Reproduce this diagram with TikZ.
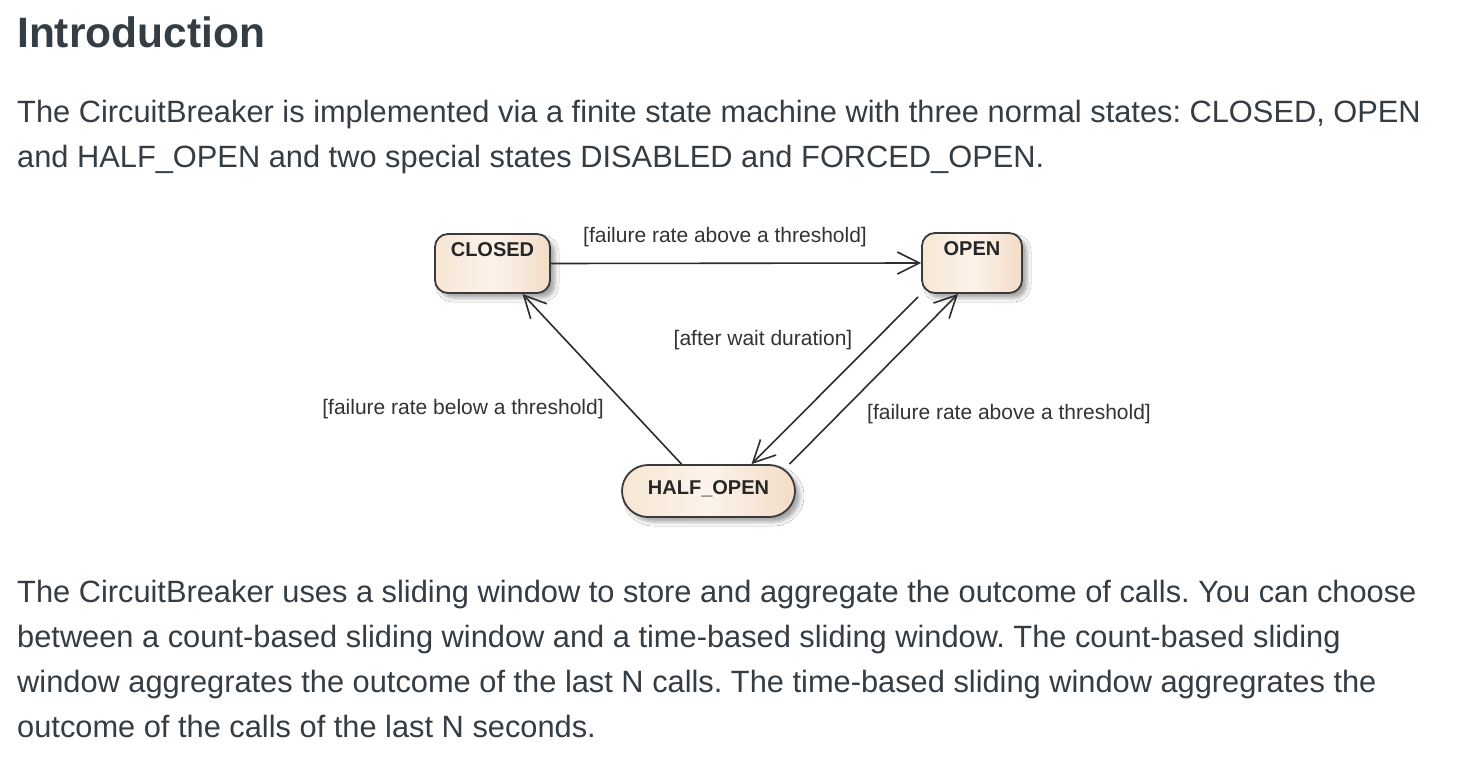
\documentclass[tikz,border=0pt]{standalone}
\usepackage{fontspec}
\setmainfont{Liberation Sans}
\usetikzlibrary{arrows.meta,positioning,shadows.blur}
\frenchspacing

\definecolor{bodytext}{RGB}{52,60,68}
\definecolor{boxline}{RGB}{58,58,58}
\definecolor{boxleft}{RGB}{247,230,211}
\definecolor{boxmid}{RGB}{252,243,235}
\definecolor{boxright}{RGB}{243,220,199}
\definecolor{wire}{RGB}{45,45,45}

\tikzset{
  para/.style={anchor=base west, inner sep=0pt, text=bodytext, font=\fontsize{30.8}{45}\selectfont},
  heading/.style={anchor=base west, inner sep=0pt, text=bodytext, font=\fontsize{42.5}{50}\selectfont\bfseries},
  statebox/.style={draw=boxline, line width=1.8pt, rounded corners=13pt,
    left color=boxleft, right color=boxright, middle color=boxmid,
    blur shadow={shadow xshift=5pt, shadow yshift=-5pt, shadow blur radius=4pt, shadow opacity=35},
    font=\fontsize{20}{24}\selectfont\bfseries, text=black!85, inner sep=0pt, text height=14pt},
  guard/.style={font=\fontsize{21}{24}\selectfont, text=black!80, inner sep=0pt},
  trans/.style={draw=wire, line width=1.6pt, -{Straight Barb[length=22pt,width=22pt]}},
}

\begin{document}
\begin{tikzpicture}[x=1pt, y=-1pt]
	\useasboundingbox (0,0) rectangle (1458,762);
	\fill[white] (0,0) rectangle (1458,762);
	% text above the diagram
	\node[heading] (title) at (17,48) {Introduction};
	\node[para] (intro1) at (17,123) {The CircuitBreaker is implemented via a finite state machine with three normal states: CLOSED, OPEN};
	\node[para] (intro2) at (17,168) {and HALF\_OPEN and two special states DISABLED and FORCED\_OPEN.};
	% states
	\node[statebox, minimum width=115pt, minimum height=59pt, text depth=29pt] (closed) at (492.5,263.5) {CLOSED};
	\node[statebox, minimum width=100pt, minimum height=60pt, text depth=29pt] (open) at (972,263) {OPEN};
	\node[statebox, rounded corners=26pt, minimum width=173pt, minimum height=52pt, text depth=8pt] (half) at (708.5,491) {HALF\_OPEN};
	% transitions
	\draw[trans] (closed.east) -- (open.west);
	\draw[trans] ([xshift=-27pt]half.north) -- ([xshift=30pt]closed.south);
	\draw[trans] ([xshift=-3pt,yshift=-3pt]open.south west) -- ([xshift=43pt]half.north);
	\draw[trans] ([xshift=81pt]half.north) -- ([xshift=-14pt]open.south);
	\node[guard] (g1) at (725,237) {[failure rate above a threshold]};
	\node[guard] (g2) at (763,340) {[after wait duration]};
	\node[guard] (g3) at (463,409) {[failure rate below a threshold]};
	\node[guard] (g4) at (1009,414) {[failure rate above a threshold]};
	% text below the diagram
	\node[para] (win1) at (17,602) {The CircuitBreaker uses a sliding window to store and aggregate the outcome of calls. You can choose};
	\node[para] (win2) at (17,647) {between a count-based sliding window and a time-based sliding window. The count-based sliding};
	\node[para] (win3) at (17,692) {window aggregrates the outcome of the last N calls. The time-based sliding window aggregrates the};
	\node[para] (win4) at (17,737) {outcome of the calls of the last N seconds.};
\end{tikzpicture}
\end{document}
